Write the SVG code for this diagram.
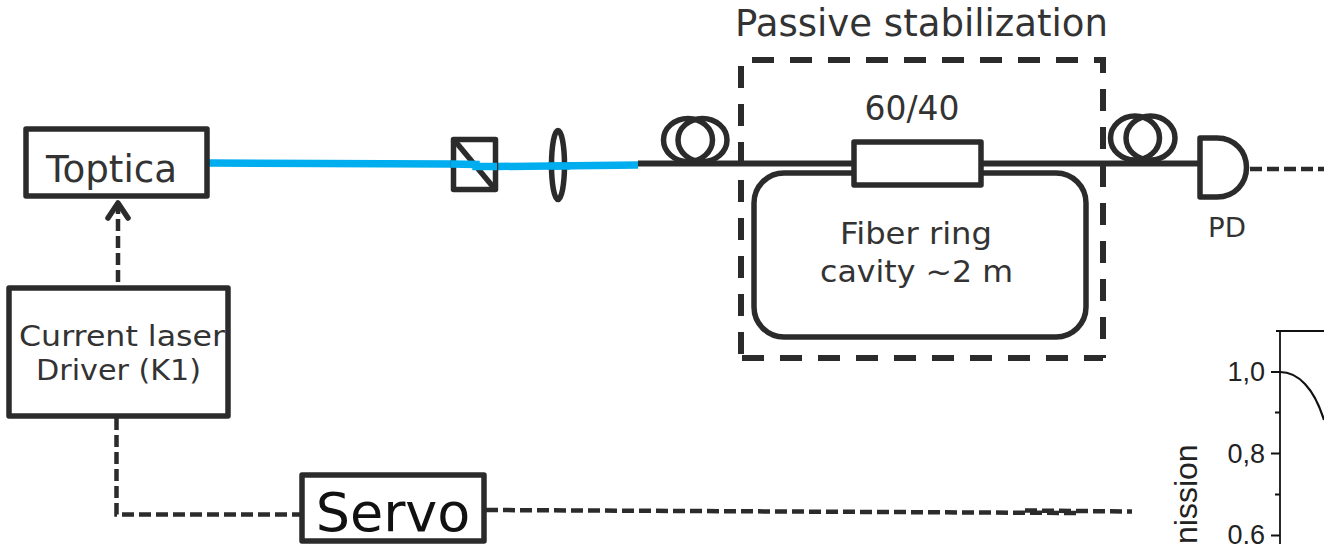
<svg xmlns="http://www.w3.org/2000/svg" width="1324" height="544" viewBox="0 0 1324 544">
<style>
.b{fill:#fff;stroke:#2b2b2b;stroke-width:5.500;stroke-linejoin:round}
.n{fill:none;stroke:#2b2b2b;stroke-width:5.500;stroke-linejoin:round}
.d{fill:none;stroke:#2b2b2b;stroke-width:4.500;stroke-dasharray:12 5}
.s{fill:none;stroke:#2b2b2b;stroke-width:6;stroke-dasharray:22 16}
.t{font-family:"DejaVu Sans",Verdana,sans-serif;fill:#333}
.a{font-family:"Liberation Sans",Arial,sans-serif;fill:#222;font-size:27px}
.ax{fill:none;stroke:#111;stroke-width:1.800}
.bl{fill:none;stroke:#00aeef;stroke-width:7.500}
</style>
<rect width="1324" height="544" fill="#fff"/>
<g id="connectors">
<path class="n" style="stroke-width:6" d="M638 163.500H853M982 163.500H1200"/>
<path class="n" d="M853 173H784A30 30 0 0 0 754 203V307A30 30 0 0 0 784 337H1056A30 30 0 0 0 1086 307V203A30 30 0 0 0 1056 173H982"/>
<path class="bl" d="M208 163L451 164"/>
<path class="bl" d="M497 166.500L638 165"/>
<path class="d" d="M118 282V208"/>
<path class="n" stroke-linecap="round" d="M108 218L118 203L128 218"/>
<path class="d" d="M116.500 418V514.500H301"/>
<path class="d" d="M486 510L1080 513"/>
<path class="d" d="M1025 510.500L1132 511.500"/>
<path class="d" d="M1250 169H1324"/>
</g>
<g id="toptica"><rect class="b" x="26" y="129" width="181" height="67"/><text class="t" x="111.500" y="182" font-size="37" text-anchor="middle" textLength="131" lengthAdjust="spacingAndGlyphs">Toptica</text></g>
<g id="driver"><rect class="b" x="9" y="288" width="219" height="128"/><text class="t" x="122" y="346" font-size="29" text-anchor="middle" textLength="206" lengthAdjust="spacingAndGlyphs">Current laser</text><text class="t" x="118.500" y="380" font-size="29" text-anchor="middle" textLength="165" lengthAdjust="spacingAndGlyphs">Driver (K1)</text></g>
<g id="servo"><rect class="b" x="302" y="475" width="182" height="66"/><text x="393" y="531" font-family="DejaVu Sans,sans-serif" font-size="54" fill="#111" text-anchor="middle">Servo</text></g>
<g id="isolator"><rect class="n" x="453.500" y="139.500" width="42" height="50"/><path class="n" d="M455 141L494 188"/><path class="bl" d="M451 164L476 164.500L476 166.500L497 166.500"/></g>
<g id="lens"><ellipse class="n" cx="558" cy="165" rx="6.500" ry="34.500"/><path class="bl" d="M548 166L570 166"/></g>
<g id="coil1"><ellipse class="n" cx="688" cy="140" rx="24.500" ry="21.500"/><ellipse class="n" cx="702.500" cy="140" rx="24.500" ry="21.500"/></g>
<g id="coil2"><ellipse class="n" cx="1135" cy="138" rx="24.500" ry="22"/><ellipse class="n" cx="1150.500" cy="138" rx="24.500" ry="22"/></g>
<g id="stabilization"><path class="s" d="M752 60H1103V358"/><path class="s" d="M742 358H1103"/><path class="s" d="M741 66V354"/><text class="t" x="921.500" y="36" font-size="37" text-anchor="middle" textLength="373" lengthAdjust="spacingAndGlyphs">Passive stabilization</text></g>
<g id="coupler"><rect class="b" x="854" y="142" width="127" height="43"/><text class="t" x="912" y="119.500" font-size="33" text-anchor="middle" textLength="95" lengthAdjust="spacingAndGlyphs">60/40</text></g>
<g id="cavity"><text class="t" x="916" y="243.500" font-size="30.500" text-anchor="middle" textLength="152" lengthAdjust="spacingAndGlyphs">Fiber ring</text><text class="t" x="916.500" y="281.500" font-size="30.500" text-anchor="middle" textLength="193" lengthAdjust="spacingAndGlyphs">cavity ~2 m</text></g>
<g id="pd"><path class="b" d="M1200 138H1217C1235 138 1246.500 152 1246.500 167.500C1246.500 183 1235 197 1217 197H1200Z"/><text class="t" x="1227" y="237" font-size="27" text-anchor="middle" textLength="38" lengthAdjust="spacingAndGlyphs">PD</text></g>
<g id="plot">
<path class="ax" d="M1276 331H1324"/><path class="ax" d="M1280 331V544"/>
<path class="ax" d="M1271 372H1280M1271 453.500H1280M1271 535.500H1280M1275 412.500H1280M1275 494.500H1280"/>
<path d="M1280 372C1298 372 1314 388 1324 420" fill="none" stroke="#111" stroke-width="2.200"/>
<text class="a" x="1265" y="380.500" text-anchor="end">1,0</text>
<text class="a" x="1265" y="462.500" text-anchor="end">0,8</text>
<text class="a" x="1265" y="544" text-anchor="end">0,6</text>
<text class="a" style="font-size:32px" transform="translate(1197 544) rotate(-90)">nission</text>
</g>
</svg>
